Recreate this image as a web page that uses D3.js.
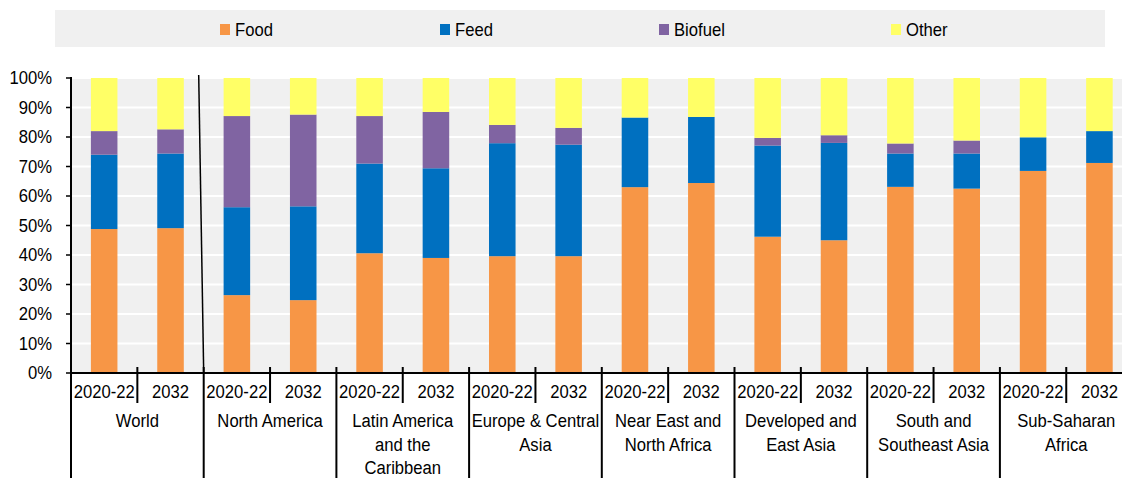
<!DOCTYPE html>
<html>
<head>
<meta charset="utf-8">
<script src="https://cdn.jsdelivr.net/npm/d3@7"></script>
<style>
  body { margin: 0; background: #fff; }
  text { font-family: "Liberation Sans", Arial, sans-serif; font-size: 18.5px; fill: #000; }
</style>
</head>
<body>
<svg id="chart" width="1122" height="478"></svg>
<script>

// regions (groups), each has two periods
const REGIONS = [
	["World"],
	["North America"],
	["Latin America", "and the", "Caribbean"],
	["Europe & Central", "Asia"],
	["Near East and", "North Africa"],
	["Developed and", "East Asia"],
	["South and", "Southeast Asia"],
	["Sub-Saharan", "Africa"]
];
const PERIODS = ["2020-22", "2032"];

const SERIES = ["Food", "Feed", "Biofuel", "Other"];
const COLORS = ["#F79646", "#0070C0", "#8064A2", "#FFFF66"];

// shares in %, one value per bar (region x period)
const FOOD    = [48.8, 49.1, 26.4, 24.7, 40.6, 39.0, 39.6, 39.6, 63.0, 64.4, 46.2, 45.0, 63.1, 62.5, 68.5, 71.2];
const FEED    = [25.2, 25.3, 29.8, 31.8, 30.4, 30.4, 38.3, 37.8, 23.6, 22.4, 30.9, 33.0, 11.3, 11.9, 11.4, 10.8];
const BIOFUEL = [ 8.0,  8.2, 30.9, 31.1, 16.1, 19.1,  6.2,  5.7,  0.0,  0.0,  2.6,  2.6,  3.4,  4.4,  0.0,  0.0];
const OTHER   = [18.0, 17.4, 12.9, 12.4, 12.9, 11.5, 15.9, 16.9, 13.4, 13.2, 20.3, 19.4, 22.2, 21.2, 20.1, 18.0];

const Y_TICKS = [0, 10, 20, 30, 40, 50, 60, 70, 80, 90, 100];

// layout
const W = 1122, H = 478;
const PLOT = { left: 71, top: 78, bottom: 373, step: 66.35 };
const LEGEND_BOX = { x: 55, y: 10, w: 1050, h: 37 };
const LEGEND_X = [220, 440, 659, 891];
const SQUEEZE = 0.9;  // the original text is horizontally condensed

const bars = [];
REGIONS.forEach((r, ri) => {
	PERIODS.forEach((p, pi) => {
		const i = ri * PERIODS.length + pi;
		bars.push({ id: i, region: ri, period: p,
			Food: FOOD[i], Feed: FEED[i], Biofuel: BIOFUEL[i], Other: OTHER[i] });
	});
});

const svg = d3.select("#chart");

function addText(parent, x, y, str, anchor) {
	return parent.append("text")
		.attr("transform", `translate(${x},${y}) scale(${SQUEEZE},1)`)
		.attr("text-anchor", anchor)
		.attr("dominant-baseline", "central")
		.text(str);
}

const x = d3.scaleBand()
	.domain(bars.map(d => d.id))
	.range([PLOT.left, PLOT.left + PLOT.step * bars.length])
	.paddingInner(0.6)
	.paddingOuter(0.3);

const y = d3.scaleLinear()
	.domain([0, 100])
	.range([PLOT.bottom, PLOT.top]);

const step = x.step();
const cellLeft = i => PLOT.left + i * step;

// legend
svg.append("rect")
	.attr("x", LEGEND_BOX.x).attr("y", LEGEND_BOX.y)
	.attr("width", LEGEND_BOX.w).attr("height", LEGEND_BOX.h)
	.style("fill", "#f0f0f0");

SERIES.forEach((s, i) => {
	svg.append("rect")
		.attr("x", LEGEND_X[i]).attr("y", 24)
		.attr("width", 10).attr("height", 11)
		.style("fill", COLORS[i]);
	addText(svg, LEGEND_X[i] + 15, 29.5, s, "start");
});

// plot background
svg.append("rect")
	.attr("x", PLOT.left).attr("y", PLOT.top)
	.attr("width", W - PLOT.left).attr("height", PLOT.bottom - PLOT.top)
	.style("fill", "#f0f0f0");

// gridlines
svg.append("g").selectAll("line")
	.data(Y_TICKS.filter(t => t > 0))
	.enter().append("line")
	.attr("x1", PLOT.left).attr("x2", W)
	.attr("y1", d => y(d)).attr("y2", d => y(d))
	.style("stroke", "#fff").style("stroke-width", 2);

// stacked bars
const stack = d3.stack().keys(SERIES)(bars);

svg.append("g").selectAll("g")
	.data(stack)
	.enter().append("g")
	.style("fill", (d, i) => COLORS[i])
	.selectAll("rect")
	.data(d => d)
	.enter().append("rect")
	.attr("x", d => x(d.data.id))
	.attr("width", x.bandwidth())
	.attr("y", d => y(d[1]))
	.attr("height", d => y(d[0]) - y(d[1]));

// y axis
const yAxis = svg.append("g");
yAxis.append("line")
	.attr("x1", PLOT.left).attr("x2", PLOT.left)
	.attr("y1", PLOT.top - 1).attr("y2", H)
	.style("stroke", "#000").style("stroke-width", 2);
yAxis.selectAll("line.tick")
	.data(Y_TICKS)
	.enter().append("line")
	.attr("class", "tick")
	.attr("x1", PLOT.left - 5).attr("x2", PLOT.left)
	.attr("y1", d => y(d)).attr("y2", d => y(d))
	.style("stroke", "#000").style("stroke-width", 1.5);
Y_TICKS.forEach(t => addText(yAxis, 52, y(t), t + "%", "end"));

// x axis line
svg.append("line")
	.attr("x1", PLOT.left).attr("x2", W)
	.attr("y1", PLOT.bottom).attr("y2", PLOT.bottom)
	.style("stroke", "#000").style("stroke-width", 2);

// ticks between periods and between regions
const xAxis = svg.append("g");
bars.forEach((d, i) => {
	if (i === 0) return;
	const xx = cellLeft(i);
	const isGroup = i % PERIODS.length === 0;
	xAxis.append("line")
		.attr("x1", xx).attr("x2", xx)
		.attr("y1", PLOT.bottom - 6).attr("y2", isGroup ? H : 403)
		.style("stroke", "#000").style("stroke-width", 2);
});

// break mark between World and the regions
const sepX = cellLeft(PERIODS.length);
svg.append("line")
	.attr("x1", sepX - 5).attr("x2", sepX)
	.attr("y1", PLOT.top - 3).attr("y2", PLOT.bottom)
	.style("stroke", "#000").style("stroke-width", 1.5);

// period labels
bars.forEach(d => {
	addText(xAxis, x(d.id) + x.bandwidth() / 2, 392, d.period, "middle");
});

// region labels
REGIONS.forEach((lines, ri) => {
	const cx = cellLeft(ri * PERIODS.length) + step * PERIODS.length / 2;
	lines.forEach((ln, li) => {
		addText(xAxis, cx, 421 + li * 23.5, ln, "middle");
	});
});

</script>
</body>
</html>
